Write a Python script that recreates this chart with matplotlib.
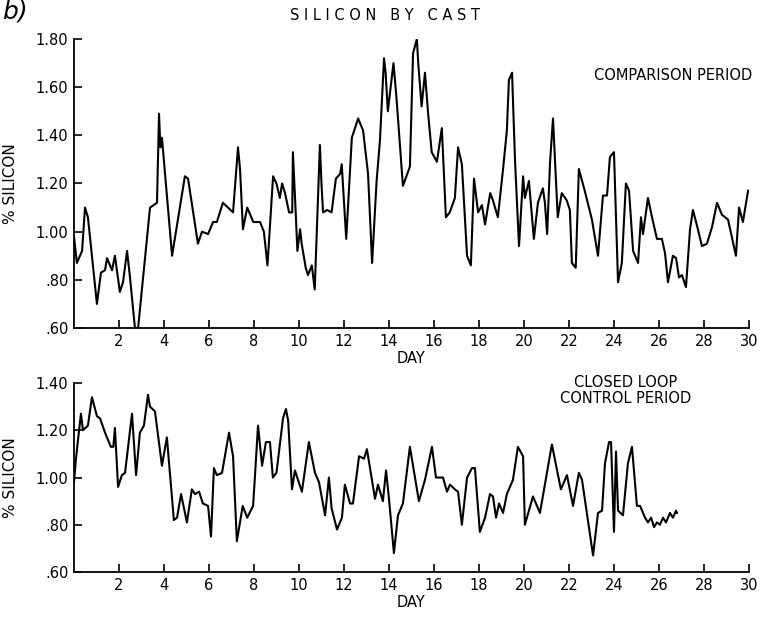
import matplotlib
matplotlib.use('Agg')
import matplotlib.pyplot as plt
from matplotlib.ticker import FuncFormatter

# comparison period (day, % silicon)
day_cmp = [0.0, 0.13, 0.36, 0.49, 0.62, 1.02, 1.2, 1.38, 1.47, 1.69, 1.82, 2.04, 2.18, 2.36, 2.49,
           2.71, 2.85, 3.38, 3.69, 3.78, 3.84, 3.91, 4.36, 4.93, 5.07, 5.51, 5.69, 5.96, 6.18, 6.35,
           6.62, 7.07, 7.29, 7.38, 7.51, 7.7, 7.97, 8.27, 8.44, 8.6, 8.85, 9.0, 9.15, 9.25, 9.38,
           9.56, 9.7, 9.73, 9.83, 9.93, 10.05, 10.12, 10.3, 10.4, 10.57, 10.7, 10.93, 11.0, 11.07,
           11.25, 11.45, 11.64, 11.83, 11.9, 12.1, 12.35, 12.63, 12.85, 13.07, 13.25, 13.45, 13.6,
           13.78, 13.85, 13.95, 14.2, 14.33, 14.62, 14.93, 15.07, 15.24, 15.3, 15.45, 15.6, 15.74,
           15.9, 16.13, 16.35, 16.53, 16.7, 16.93, 17.07, 17.24, 17.47, 17.64, 17.78, 17.96, 18.13,
           18.27, 18.5, 18.62, 18.84, 19.07, 19.24, 19.33, 19.47, 19.6, 19.78, 19.96, 20.04, 20.22,
           20.44, 20.62, 20.84, 20.93, 21.03, 21.16, 21.29, 21.5, 21.68, 21.9, 22.04, 22.13, 22.3,
           22.44, 22.7, 23.02, 23.29, 23.51, 23.69, 23.82, 24.0, 24.18, 24.35, 24.53, 24.67, 24.85,
           25.07, 25.2, 25.29, 25.51, 25.69, 25.91, 26.13, 26.27, 26.4, 26.62, 26.76, 26.89, 27.02,
           27.2, 27.38, 27.51, 27.73, 27.91, 28.13, 28.36, 28.58, 28.8, 29.07, 29.42, 29.56, 29.73,
           29.96]
si_cmp = [0.98, 0.87, 0.92, 1.10, 1.06, 0.70, 0.83, 0.84, 0.89, 0.84, 0.90, 0.75, 0.79, 0.92, 0.81,
          0.60, 0.60, 1.10, 1.12, 1.49, 1.35, 1.39, 0.90, 1.23, 1.22, 0.95, 1.00, 0.99, 1.04, 1.04,
          1.12, 1.08, 1.35, 1.26, 1.01, 1.10, 1.04, 1.04, 1.00, 0.86, 1.23, 1.20, 1.14, 1.20, 1.16,
          1.08, 1.08, 1.33, 1.13, 0.92, 1.01, 0.95, 0.85, 0.82, 0.86, 0.76, 1.36, 1.20, 1.08,
          1.09, 1.08, 1.22, 1.24, 1.28, 0.97, 1.39, 1.47, 1.42, 1.24, 0.87, 1.21, 1.38,
          1.72, 1.66, 1.50, 1.70, 1.56, 1.19, 1.27, 1.74, 1.80, 1.70, 1.52, 1.66, 1.49,
          1.33, 1.29, 1.43, 1.06, 1.08, 1.14, 1.35, 1.28, 0.90, 0.86, 1.22, 1.08, 1.11,
          1.03, 1.16, 1.13, 1.06, 1.26, 1.42, 1.63, 1.66, 1.30, 0.94, 1.23, 1.14, 1.21,
          0.97, 1.12, 1.18, 1.12, 0.99, 1.29, 1.47, 1.06, 1.16, 1.13, 1.09, 0.87, 0.85,
          1.26, 1.17, 1.05, 0.90, 1.15, 1.15, 1.31, 1.33, 0.79, 0.87, 1.20, 1.17, 0.92,
          0.87, 1.06, 0.99, 1.14, 1.06, 0.97, 0.97, 0.91, 0.79, 0.90, 0.89, 0.81, 0.82,
          0.77, 1.01, 1.09, 1.01, 0.94, 0.95, 1.02, 1.12, 1.07, 1.05, 0.90, 1.10, 1.04,
          1.17]

# closed loop control period
day_cl = [0.0, 0.08, 0.18, 0.31, 0.4, 0.62, 0.8, 1.02, 1.16, 1.38, 1.64, 1.75, 1.82, 1.96, 2.13,
          2.27, 2.58, 2.76, 2.93, 3.11, 3.29, 3.38, 3.6, 3.91, 4.13, 4.44, 4.58, 4.76, 5.02, 5.24,
          5.38, 5.56, 5.73, 5.96, 6.09, 6.22, 6.35, 6.58, 6.89, 7.07, 7.24, 7.38, 7.5, 7.7, 7.96,
          8.04, 8.18, 8.36, 8.53, 8.71, 8.84, 9.0, 9.29, 9.42, 9.52, 9.69, 9.82, 10.13, 10.44,
          10.71, 10.89, 11.16, 11.33, 11.45, 11.69, 11.91, 12.04, 12.27, 12.4, 12.67, 12.89, 13.02,
          13.38, 13.51, 13.73, 13.87, 14.0, 14.22, 14.4, 14.62, 14.93, 15.33, 15.6, 15.91, 16.09,
          16.4, 16.58, 16.71, 16.93, 17.07, 17.24, 17.47, 17.69, 17.82, 18.04, 18.27, 18.49, 18.62,
          18.76, 18.89, 19.07, 19.24, 19.51, 19.73, 19.96, 20.04, 20.4, 20.71, 21.24, 21.64, 21.91,
          22.18, 22.44, 22.58, 23.07, 23.29, 23.47, 23.6, 23.78, 23.87, 24.0, 24.09, 24.18, 24.4,
          24.62, 24.8, 25.02, 25.16, 25.38, 25.51, 25.65, 25.78, 25.91, 26.04, 26.18, 26.31, 26.49,
          26.62, 26.76, 26.8]
si_cl = [0.98, 1.07, 1.16, 1.27, 1.20, 1.22, 1.34, 1.26, 1.25, 1.19, 1.13, 1.13, 1.21, 0.96, 1.01,
         1.02, 1.27, 1.01, 1.19, 1.22, 1.35, 1.30, 1.28, 1.05, 1.17, 0.82, 0.83, 0.93, 0.81, 0.95,
         0.93, 0.94, 0.89, 0.88, 0.75, 1.04, 1.01, 1.02, 1.19, 1.09, 0.73, 0.81, 0.88, 0.83, 0.88,
         1.00, 1.22, 1.05, 1.15, 1.15, 1.00, 1.02, 1.25, 1.29, 1.24, 0.95, 1.03, 0.94, 1.15,
         1.02, 0.98, 0.84, 1.00, 0.87, 0.78, 0.83, 0.97, 0.89, 0.89, 1.09, 1.08, 1.12,
         0.91, 0.97, 0.90, 1.03, 0.91, 0.68, 0.84, 0.89, 1.13, 0.90, 0.99, 1.13, 1.00,
         1.00, 0.94, 0.97, 0.95, 0.94, 0.80, 1.00, 1.04, 1.04, 0.77, 0.83, 0.93, 0.92,
         0.83, 0.89, 0.85, 0.93, 0.99, 1.13, 1.09, 0.80, 0.92, 0.85, 1.14, 0.95, 1.01,
         0.88, 1.02, 0.99, 0.67, 0.85, 0.86, 1.06, 1.15, 1.15, 0.77, 1.11, 0.86, 0.84,
         1.06, 1.13, 0.88, 0.88, 0.83, 0.81, 0.83, 0.79, 0.81, 0.80, 0.83, 0.81, 0.85,
         0.83, 0.86, 0.85]

day_ticks = [2, 4, 6, 8, 10, 12, 14, 16, 18, 20, 22, 24, 26, 28, 30]
yticks_top = [0.60, 0.80, 1.00, 1.20, 1.40, 1.60, 1.80]
yticks_bot = [0.60, 0.80, 1.00, 1.20, 1.40]

plt.rcParams['font.family'] = 'DejaVu Sans'
fs = 10.5


def pct(v, pos):
    s = '%.2f' % v
    return s[1:] if s.startswith('0') else s


def style(ax, yticks, ylim):
    ax.set_xlim(0, 30)
    ax.set_ylim(*ylim)
    ax.set_xticks(day_ticks)
    ax.set_yticks(yticks)
    ax.yaxis.set_major_formatter(FuncFormatter(pct))
    for s in ['top', 'right']:
        ax.spines[s].set_visible(False)
    for s in ['left', 'bottom']:
        ax.spines[s].set_linewidth(1.3)
    ax.tick_params(direction='in', length=6, width=1.2, labelsize=fs, pad=4)
    ax.set_xlabel('DAY', fontsize=fs, labelpad=2)
    ax.set_ylabel('% SILICON', fontsize=fs + 0.5)
    ax.yaxis.set_label_coords(-0.083, 0.5)


fig = plt.figure(figsize=(7.61, 6.17), dpi=100)

ax1 = fig.add_axes([0.0972, 0.4684, 0.887, 0.4684])
ax1.plot(day_cmp, si_cmp, color='black', lw=1.5)
style(ax1, yticks_top, (0.6, 1.8))
fig.text(752 / 761, 1 - 75 / 617, 'COMPARISON PERIOD', ha='right', va='center', fontsize=fs)

ax2 = fig.add_axes([0.0972, 0.0729, 0.887, 0.3063])
ax2.plot(day_cl, si_cl, color='black', lw=1.5)
style(ax2, yticks_bot, (0.6, 1.4))
ax2.text(0.818, 0.96, 'CLOSED LOOP\nCONTROL PERIOD', transform=ax2.transAxes, ha='center', va='center',
         fontsize=fs, linespacing=1.1)

fig.text(385 / 761, 1 - 15 / 617, 'S I L I C O N   B Y   C A S T', ha='center', va='center', fontsize=10.5)
fig.text(2 / 761, 1 - 12 / 617, 'b)', ha='left', va='center', fontsize=18, style='italic')

fig.savefig('out.png', dpi=100)
